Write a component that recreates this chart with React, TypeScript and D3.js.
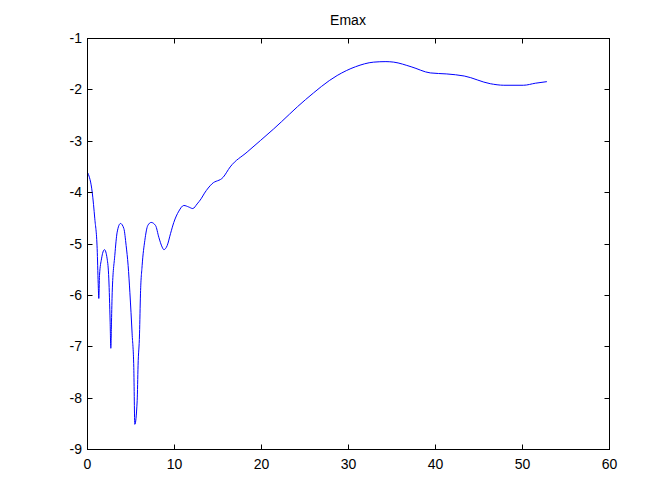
import React, { useEffect, useRef } from 'react';
import * as d3 from 'd3';

// curve
const xs = [
  0.05, 0.54, 0.84, 1.11, 1.23, 1.3, 1.38, 1.61, 1.95, 2.26, 2.45, 2.6, 2.68, 2.76, 2.84, 3.14, 3.41, 3.79,
  4.18, 4.44, 4.67, 4.87, 5.13, 5.32, 5.44, 5.71, 5.81, 5.98, 6.09, 6.28, 6.59, 6.93, 7.32, 7.82,
  8.2, 8.58, 8.78, 9.16, 9.54, 9.92, 10.5, 11.07, 11.64, 12.1, 12.6, 13.06, 13.45, 14.3, 15.6,
  16.4, 18.35, 21.4, 25.06, 28.7, 30.8, 32.9, 34.3, 35.2, 37.2, 39.4, 41.3, 43.3, 46.3, 47.85,
  50.1, 51.5, 52.8
];
const ys = [
  -3.62, -3.99, -4.51, -5.09, -5.77, -6.06, -5.61, -5.29, -5.11, -5.29, -5.68, -6.5, -7.03, -6.5, -5.94, -5.22, -4.77, -4.6,
  -4.7, -5.03, -5.42, -5.94, -6.75, -7.4, -8.51, -8.05, -7.37, -6.75, -5.97, -5.42, -4.93, -4.64, -4.58, -4.64,
  -4.87, -5.06, -5.11, -5.03, -4.8, -4.58, -4.36, -4.25, -4.28, -4.31, -4.22, -4.12, -4.01, -3.83, -3.7,
  -3.5, -3.21, -2.76, -2.19, -1.72, -1.55, -1.46, -1.45, -1.46, -1.55, -1.67, -1.69, -1.73, -1.88, -1.91,
  -1.91, -1.87, -1.84
];
const xTicks = [0, 10, 20, 30, 40, 50, 60];
const yTicks = [-9, -8, -7, -6, -5, -4, -3, -2, -1];

const width = 672;
const height = 504;
const left = 87, right = 609, top = 38, bottom = 449;

export default function App() {
  const ref = useRef<SVGSVGElement>(null);

  useEffect(() => {
    const svg = d3.select(ref.current);
    svg.selectAll('*').remove();

    const x = d3.scaleLinear().domain([0, 60]).range([left, right]);
    const y = d3.scaleLinear().domain([-9, -1]).range([bottom, top]);
    const tick = 5;

    const g = svg.append('g').attr('transform', 'translate(0.5,0.5)');

    const line = d3.line<number>()
      .x((d, i) => x(xs[i]))
      .y((d) => y(d))
      .curve(d3.curveMonotoneX);

    g.append('path')
      .datum(ys)
      .attr('d', line)
      .attr('fill', 'none')
      .attr('stroke', '#0000ff')
      .attr('stroke-width', 1);

    g.append('rect')
      .attr('x', left).attr('y', top)
      .attr('width', right - left).attr('height', bottom - top)
      .attr('fill', 'none').attr('stroke', '#000');

    const font = 'Liberation Sans, Arial, sans-serif';

    xTicks.forEach((t) => {
      const px = Math.round(x(t));
      g.append('line').attr('x1', px).attr('x2', px).attr('y1', bottom).attr('y2', bottom - tick).attr('stroke', '#000');
      g.append('line').attr('x1', px).attr('x2', px).attr('y1', top).attr('y2', top + tick).attr('stroke', '#000');
      svg.append('text')
        .attr('x', px + 0.5).attr('y', bottom + 20)
        .attr('text-anchor', 'middle')
        .attr('font-family', font).attr('font-size', 14)
        .text(t);
    });

    yTicks.forEach((t) => {
      const py = Math.round(y(t));
      g.append('line').attr('x1', left).attr('x2', left + tick).attr('y1', py).attr('y2', py).attr('stroke', '#000');
      g.append('line').attr('x1', right).attr('x2', right - tick).attr('y1', py).attr('y2', py).attr('stroke', '#000');
      svg.append('text')
        .attr('x', left - 5).attr('y', py + 5)
        .attr('text-anchor', 'end')
        .attr('font-family', font).attr('font-size', 14)
        .text(t);
    });

    svg.append('text')
      .attr('x', (left + right) / 2).attr('y', 25)
      .attr('text-anchor', 'middle')
      .attr('font-family', font).attr('font-size', 14)
      .text('Emax');
  }, []);

  return (
    <div style={{ position: 'absolute', left: 0, top: 0 }}>
      <svg ref={ref} width={width} height={height} style={{ display: 'block', background: '#fff' }}></svg>
    </div>
  );
}
